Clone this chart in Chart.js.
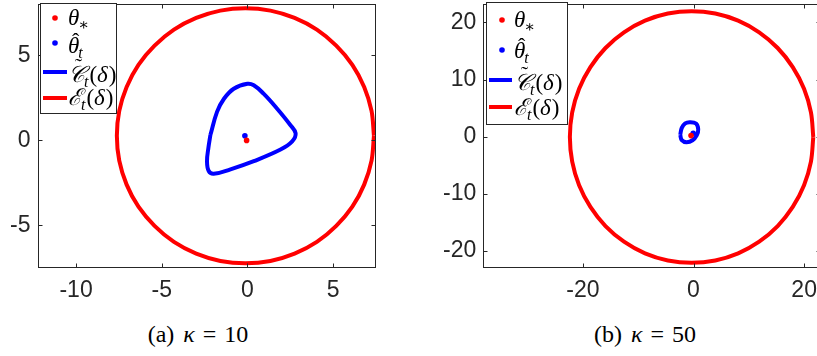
<!DOCTYPE html>
<html>
<head>
<meta charset="utf-8">
<script src="https://cdn.jsdelivr.net/npm/chart.js@4.4.0/dist/chart.umd.min.js"></script>
<style>
html, body { margin: 0; padding: 0; background: #fff; }
#wrap { position: relative; width: 817px; height: 356px; overflow: hidden; }
#boxA { position: absolute; left: 0; top: 0; width: 400px; height: 300px; }
#boxB { position: absolute; left: 410px; top: 0; width: 430px; height: 300px; }
.cap { position: absolute; top: 322px; line-height: 24px; font-family: "Liberation Serif", serif; font-size: 24px; color: #000; white-space: nowrap; transform: translateX(-50%); }
.cap .eq { margin: 0 8px; }
.cap i { margin-left: 3px; }
</style>
</head>
<body>
<div id="wrap">
  <div id="boxA"><canvas id="chartA" width="400" height="300"></canvas></div>
  <div id="boxB"><canvas id="chartB" width="430" height="300"></canvas></div>
  <div class="cap" style="left:198px">(a) <i>κ</i><span class="eq">=</span>10</div>
  <div class="cap" style="left:645px">(b) <i>κ</i><span class="eq">=</span>50</div>
</div>
<script>
// ---- panel (a): kappa = 10 ----
var xTicksA = [-10, -5, 0, 5];
var yTicksA = [-5, 0, 5];
var xRangeA = [-12.25, 7.5];
var yRangeA = [-7.52, 8.02];
var thetaStarA = [{x: -0.05, y: 0}];
var thetaHatA = [{x: -0.15, y: 0.27}];
var confSetA = [
    {x: -2.16, y: 0.33}, {x: -1.77, y: 1.69}, {x: -1.37, y: 2.45}, {x: -0.80, y: 3.04},
    {x: 0.00, y: 3.33}, {x: 0.37, y: 3.24}, {x: 0.94, y: 2.75}, {x: 1.72, y: 1.88},
    {x: 2.50, y: 0.91}, {x: 2.81, y: 0.42}, {x: 2.61, y: -0.06}, {x: 1.93, y: -0.54},
    {x: 0.37, y: -1.22}, {x: -0.99, y: -1.70}, {x: -1.97, y: -1.96}, {x: -2.26, y: -1.80},
    {x: -2.36, y: -1.22}, {x: -2.28, y: -0.45}, {x: -2.16, y: 0.33}
];
var ellipseA = [
    {x: 7.38, y: 0.27}, {x: 7.24, y: 1.73}, {x: 6.81, y: 3.14}, {x: 6.12, y: 4.44},
    {x: 5.18, y: 5.57}, {x: 4.05, y: 6.51}, {x: 2.75, y: 7.20}, {x: 1.34, y: 7.63},
    {x: -0.12, y: 7.77}, {x: -1.58, y: 7.63}, {x: -2.99, y: 7.20}, {x: -4.29, y: 6.51},
    {x: -5.42, y: 5.57}, {x: -6.36, y: 4.44}, {x: -7.05, y: 3.14}, {x: -7.48, y: 1.73},
    {x: -7.62, y: 0.27}, {x: -7.48, y: -1.19}, {x: -7.05, y: -2.60}, {x: -6.36, y: -3.90},
    {x: -5.42, y: -5.03}, {x: -4.29, y: -5.97}, {x: -2.99, y: -6.66}, {x: -1.58, y: -7.09},
    {x: -0.12, y: -7.23}, {x: 1.34, y: -7.09}, {x: 2.75, y: -6.66}, {x: 4.05, y: -5.97},
    {x: 5.18, y: -5.03}, {x: 6.12, y: -3.90}, {x: 6.81, y: -2.60}, {x: 7.24, y: -1.19},
    {x: 7.38, y: 0.27}
];

// ---- panel (b): kappa = 50 ----
var xTicksB = [-20, 0, 20];
var yTicksB = [-20, -10, 0, 10, 20];
var xRangeB = [-38, 23.1];
var yRangeB = [-23, 23.2];
var thetaStarB = [{x: -0.45, y: 0.2}];
var thetaHatB = [{x: -0.05, y: 0.6}];
var confSetB = [
    {x: -2.40, y: 0.33}, {x: -2.12, y: 1.55}, {x: -1.50, y: 2.35}, {x: -0.65, y: 2.55},
    {x: 0.45, y: 2.30}, {x: 0.85, y: 1.30}, {x: 0.58, y: 0.25}, {x: -0.18, y: -0.62},
    {x: -1.26, y: -0.95}, {x: -2.12, y: -0.60}, {x: -2.40, y: 0.33}
];
var ellipseB = [
    {x: 21.65, y: -0.05}, {x: 21.23, y: 4.24}, {x: 19.98, y: 8.37}, {x: 17.94, y: 12.17},
    {x: 15.21, y: 15.51}, {x: 11.87, y: 18.24}, {x: 8.07, y: 20.28}, {x: 3.94, y: 21.53},
    {x: -0.35, y: 21.95}, {x: -4.64, y: 21.53}, {x: -8.77, y: 20.28}, {x: -12.57, y: 18.24},
    {x: -15.91, y: 15.51}, {x: -18.64, y: 12.17}, {x: -20.68, y: 8.37}, {x: -21.93, y: 4.24},
    {x: -22.35, y: -0.05}, {x: -21.93, y: -4.34}, {x: -20.68, y: -8.47}, {x: -18.64, y: -12.27},
    {x: -15.91, y: -15.61}, {x: -12.57, y: -18.34}, {x: -8.77, y: -20.38}, {x: -4.64, y: -21.63},
    {x: -0.35, y: -22.05}, {x: 3.94, y: -21.63}, {x: 8.07, y: -20.38}, {x: 11.87, y: -18.34},
    {x: 15.21, y: -15.61}, {x: 17.94, y: -12.27}, {x: 19.98, y: -8.47}, {x: 21.23, y: -4.34},
    {x: 21.65, y: -0.05}
];

// legend labels (math): main glyph, accent, subscript, tail
var legendLabels = [
    {main: 'θ', sub: '∗'},
    {main: 'θ', accent: 'ˆ', lift: 5, sub: 't'},
    {main: '𝒞', accent: '˜', lift: 9, sub: 't', tail: true},
    {main: 'ℰ', sub: 't', tail: true}
];

var RED = '#ff0000', BLUE = '#0000ff', AXIS = '#262626';

// box around the axes with inward tick marks (MATLAB style)
var framePlugin = {
    id: 'frame',
    afterDatasetsDraw: function(chart) {
        var ctx = chart.ctx, a = chart.chartArea;
        var xs = chart.scales.x, ys = chart.scales.y;
        var l = Math.round(a.left) + 0.5, r = Math.round(a.right) - 0.5;
        var t = Math.round(a.top) + 0.5, b = Math.round(a.bottom) - 0.5;
        ctx.save();
        ctx.strokeStyle = AXIS;
        ctx.lineWidth = 1;
        ctx.strokeRect(l, t, r - l, b - t);
        ctx.beginPath();
        xs.ticks.forEach(function(tk) {
            var px = Math.round(xs.getPixelForValue(tk.value)) + 0.5;
            ctx.moveTo(px, b); ctx.lineTo(px, b - 4);
            ctx.moveTo(px, t); ctx.lineTo(px, t + 4);
        });
        ys.ticks.forEach(function(tk) {
            var py = Math.round(ys.getPixelForValue(tk.value)) + 0.5;
            ctx.moveTo(l, py); ctx.lineTo(l + 4, py);
            ctx.moveTo(r, py); ctx.lineTo(r - 4, py);
        });
        ctx.stroke();
        ctx.restore();
    }
};

// legend with math text, drawn on the canvas
var mathLegendPlugin = {
    id: 'mathLegend',
    afterDraw: function(chart, args, o) {
        var ctx = chart.ctx;
        ctx.save();
        ctx.fillStyle = '#fff';
        ctx.fillRect(o.box[0], o.box[1], o.box[2], o.box[3]);
        ctx.strokeStyle = AXIS;
        ctx.lineWidth = 1;
        ctx.strokeRect(o.box[0] + 0.5, o.box[1] + 0.5, o.box[2], o.box[3]);
        legendLabels.forEach(function(lab, i) {
            var ds = chart.data.datasets[i];
            var y = o.rowY[i];
            if (ds.showLine) {
                ctx.strokeStyle = ds.borderColor;
                ctx.lineWidth = ds.borderWidth;
                ctx.beginPath();
                ctx.moveTo(o.lineX[0], y);
                ctx.lineTo(o.lineX[1], y);
                ctx.stroke();
            } else {
                ctx.fillStyle = ds.pointBackgroundColor;
                ctx.beginPath();
                ctx.arc(o.dotX, y, ds.pointRadius, 0, Math.PI * 2);
                ctx.fill();
            }
            var x = o.textX, base = o.base[i];
            ctx.fillStyle = '#000';
            ctx.textBaseline = 'alphabetic';
            ctx.textAlign = 'left';
            ctx.font = 'italic 23px "Liberation Serif", "DejaVu Serif", serif';
            ctx.fillText(lab.main, x, base);
            var w = ctx.measureText(lab.main).width;
            if (lab.accent) {
                ctx.font = '22px "Liberation Serif", "DejaVu Serif", serif';
                ctx.textAlign = 'center';
                ctx.fillText(lab.accent, x + w / 2 + 2, base - lab.lift);
                ctx.textAlign = 'left';
            }
            x += w - 1;
            ctx.font = (lab.sub === 't' ? 'italic ' : '') + '16px "Liberation Serif", "DejaVu Serif", serif';
            ctx.fillText(lab.sub, x, base + 5);
            x += ctx.measureText(lab.sub).width + 1;
            if (lab.tail) {
                ctx.font = '23px "Liberation Serif", serif';
                ctx.fillText('(', x, base);
                x += ctx.measureText('(').width;
                ctx.font = 'italic 23px "Liberation Serif", serif';
                ctx.fillText('δ', x, base);
                x += ctx.measureText('δ').width + 1;
                ctx.font = '23px "Liberation Serif", serif';
                ctx.fillText(')', x, base);
            }
        });
        ctx.restore();
    }
};

function axisOpts(range, ticks, isX, size) {
    return {
        type: 'linear',
        position: isX ? 'bottom' : 'left',
        min: range[0],
        max: range[1],
        grid: { display: false, drawTicks: false },
        border: { display: false },
        ticks: {
            color: AXIS,
            font: { family: 'Liberation Sans', size: 23 },
            padding: isX ? 9 : 7,
            maxRotation: 0,
            autoSkip: false
        },
        afterBuildTicks: function(scale) {
            scale.ticks = ticks.map(function(v) { return { value: v }; });
        },
        afterFit: function(scale) {
            if (isX) scale.height = size; else scale.width = size;
            scale.paddingTop = 0; scale.paddingBottom = 0;
            scale.paddingLeft = 0; scale.paddingRight = 0;
        }
    };
}

function makeChart(id, p) {
    return new Chart(document.getElementById(id).getContext('2d'), {
        type: 'scatter',
        data: {
            datasets: [
                { data: p.star, showLine: false, pointRadius: 2.8, pointBackgroundColor: RED, pointBorderWidth: 0 },
                { data: p.hat, showLine: false, pointRadius: 2.8, pointBackgroundColor: BLUE, pointBorderWidth: 0 },
                { data: p.conf, showLine: true, borderColor: BLUE, borderWidth: 4, pointRadius: 0, tension: 0.4, capBezierPoints: false },
                { data: p.ell, showLine: true, borderColor: RED, borderWidth: 4, pointRadius: 0, tension: 0.33, capBezierPoints: false }
            ]
        },
        options: {
            responsive: false,
            animation: false,
            layout: { padding: { left: 0, top: 1, right: p.padRight, bottom: 0 } },
            scales: {
                x: axisOpts(p.xr, p.xt, true, 31.7),
                y: axisOpts(p.yr, p.yt, false, p.yAxisW)
            },
            plugins: {
                legend: { display: false },
                tooltip: { enabled: false },
                mathLegend: p.legend
            }
        },
        plugins: [framePlugin, mathLegendPlugin]
    });
}

makeChart('chartA', {
    star: thetaStarA, hat: thetaHatA, conf: confSetA, ell: ellipseA,
    xr: xRangeA, yr: yRangeA, xt: xTicksA, yt: yTicksA,
    yAxisW: 37.5, padRight: 24,
    legend: { box: [40, 3, 76, 110], rowY: [18, 43, 72, 98], base: [25, 53, 82, 105], dotX: 55, lineX: [43, 67], textX: 68 }
});

makeChart('chartB', {
    star: thetaStarB, hat: thetaHatB, conf: confSetB, ell: ellipseB,
    xr: xRangeB, yr: yRangeB, xt: xTicksB, yt: yTicksB,
    yAxisW: 73.3, padRight: 18.7,
    legend: { box: [76, 2, 81, 122], rowY: [20, 50, 80, 107], base: [27, 58, 90, 115], dotX: 92, lineX: [79, 102], textX: 104 }
});
</script>
</body>
</html>
